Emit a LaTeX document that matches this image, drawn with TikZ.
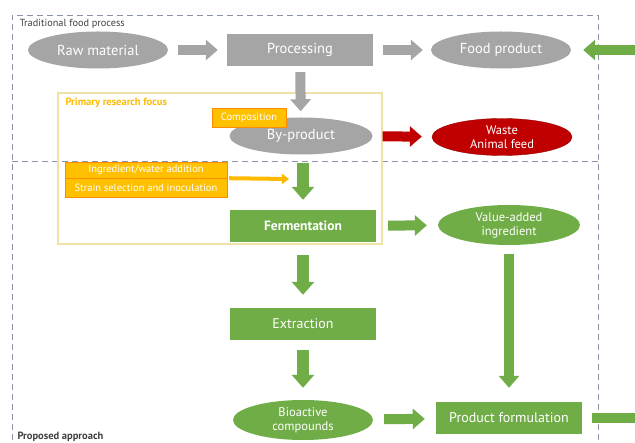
\documentclass[tikz,border=0pt]{standalone}
\usepackage{fontspec}
\setmainfont{PT Sans}
\usetikzlibrary{shapes.geometric,arrows.meta}

\definecolor{greybox}{HTML}{A5A5A5}
\definecolor{greenbox}{HTML}{70AD47}
\definecolor{redbox}{HTML}{C00000}
\definecolor{yellowbox}{HTML}{FFC000}
\definecolor{framegold}{HTML}{EFE2A6}
\definecolor{dashgrey}{HTML}{8A94A6}

\tikzset{
  oval/.style={ellipse, inner sep=0pt, minimum width=140pt, minimum height=37pt, text=white, align=center},
  stage/.style={rectangle, inner sep=0pt, minimum width=146pt, minimum height=32pt, text=white},
  tag/.style={rectangle, fill=yellowbox, draw=orange!80!yellowbox, line width=0.4pt, text=white,
    inner sep=0pt, font=\fontsize{10.5}{12}\selectfont},
  blockarrow/.style={line width=10pt, -{Triangle[width=20pt,length=12pt]}},
}

\begin{document}
\begin{tikzpicture}[x=1pt,y=-1pt]
  \clip (0,0) rectangle (635,443);
  \fill[white] (0,0) rectangle (635,443);

  % dashed frames
  \draw[dashgrey, line width=0.9pt, dash pattern=on 6pt off 4pt] (12,450) -- (12,15) -- (598,15) -- (598,450);
  \draw[dashgrey, line width=0.9pt, dash pattern=on 6pt off 4pt] (12,161) -- (598,161);
  \node[anchor=west, text=black!75, font=\fontsize{10.3}{12}\selectfont] (trad) at (16,24) {Traditional food process};
  \node[anchor=west, text=black!75, font=\bfseries\fontsize{10.5}{12}\selectfont] (prop) at (14,437) {Proposed approach};

  % research focus
  \draw[framegold, line width=1.3pt] (58,93) rectangle (382,244);
  \node[anchor=west, text=yellowbox!90!orange, font=\bfseries\fontsize{10.5}{12}\selectfont] (focus) at (62,103) {Primary research focus};

  % traditional process
  \node[oval, fill=greybox, font=\fontsize{14.5}{16}\selectfont] (raw) at (98,50) {Raw material};
  \node[stage, fill=greybox, font=\fontsize{14.5}{16}\selectfont] (proc) at (300,50) {Processing};
  \node[oval, fill=greybox, font=\fontsize{14.5}{16}\selectfont] (food) at (501,50) {Food product};
  \node[oval, fill=greybox, minimum width=143pt, font=\fontsize{14.5}{16}\selectfont] (byprod) at (301,136) {By-product};
  \node[oval, fill=redbox, draw=redbox!80!black, font=\fontsize{12.5}{14}\selectfont] (waste) at (502,137) {Waste\\Animal feed};
  \node[tag, minimum width=74pt, minimum height=19pt] (comp) at (249,117.5) {Composition};

  % proposed approach
  \node[tag, minimum width=162pt, minimum height=16pt] (ingr) at (146,170) {Ingredient/water addition};
  \node[tag, minimum width=162pt, minimum height=19pt] (strain) at (146,187.5) {Strain selection and inoculation};
  \node[stage, fill=greenbox, font=\bfseries\fontsize{13.5}{15}\selectfont] (ferm) at (303,226) {Fermentation};
  \node[oval, fill=greenbox, minimum width=142pt, minimum height=40pt, font=\fontsize{12.5}{14}\selectfont] (value) at (509,225) {Value-added\\ingredient};
  \node[stage, fill=greenbox, font=\fontsize{14}{16}\selectfont] (extr) at (303,324) {Extraction};
  \node[oval, fill=greenbox, minimum width=140pt, minimum height=40pt, font=\fontsize{12.5}{14}\selectfont] (bio) at (303,420) {Bioactive\\compounds};
  \node[stage, fill=greenbox, font=\fontsize{14}{16}\selectfont] (prodf) at (509,418) {Product formulation};
  \coordinate (inoc) at (289,179);
  \coordinate (loopout) at (650,418);
  \coordinate (loopin) at (650,50);

  % connectors
  \draw[blockarrow, greybox, shorten <=10pt, shorten >=9pt] (raw) to (proc);
  \draw[blockarrow, greybox, shorten <=10pt, shorten >=8pt] (proc) to (food);
  \draw[blockarrow, greybox, shorten <=6pt, shorten >=6pt] (proc) to (byprod);
  \draw[blockarrow, redbox, shorten <=10pt, shorten >=10pt] (byprod) to (waste);
  \draw[blockarrow, greenbox, line width=12pt, -{Triangle[width=22pt,length=13pt]}, shorten <=8pt, shorten >=10pt] (byprod.south -| ferm) to (ferm);
  \draw[line width=4pt, yellowbox!90!orange, -{Triangle[width=10pt,length=7pt]}, shorten <=2pt] (ingr.south east) to (inoc);
  \draw[blockarrow, greenbox, shorten <=12pt, shorten >=11pt] (ferm) to (value);
  \draw[blockarrow, greenbox, line width=12pt, -{Triangle[width=22pt,length=13pt]}, shorten <=13pt, shorten >=13pt] (ferm) to (extr);
  \draw[blockarrow, greenbox, line width=12pt, -{Triangle[width=22pt,length=13pt]}, shorten <=10pt, shorten >=12pt] (extr) to (bio);
  \draw[blockarrow, greenbox, shorten <=11pt, shorten >=11pt] (bio) to (prodf);
  \draw[blockarrow, greenbox, shorten <=9pt, shorten >=14pt] (value) to (prodf);
  \draw[greenbox, line width=10pt, shorten <=10pt] (prodf) to (loopout);
  \draw[blockarrow, greenbox, shorten >=12pt] (loopin) to (food);
\end{tikzpicture}
\end{document}
